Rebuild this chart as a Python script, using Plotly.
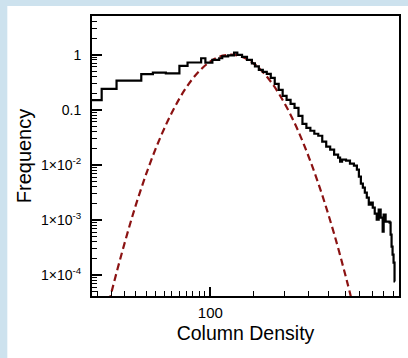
import plotly.graph_objects as go

# Histogram (step) data: left bin edges and frequencies
hist_x = [32, 36.4, 41.8, 52.6, 58.6, 66.1, 75.0, 80.9, 91.8, 95.5, 101.9, 108.6, 111.7, 118, 124.7, 128.5,
          134.3, 140.6, 147.2, 151.4, 157.0, 162.9, 169.0, 175.4, 182.0, 188.8, 195.9, 203.2, 210.9, 218.8,
          227.0, 235.5, 244.3, 253.5, 263.0, 272.9, 283.1, 293.8, 304.8, 316.2, 328.1, 334.2, 340.4, 353.2,
          366.4, 380.2, 390.8, 398.1, 405.5, 413.0, 420.7, 428.5, 436.5, 444.6, 452.9, 461.3, 469.9, 478.6,
          487.5, 496.6, 501.2, 510.5, 520.0, 529.7, 534.6, 539.5, 544.5, 549.5, 554.6, 557.0]
hist_y = [0.149, 0.239, 0.338, 0.441, 0.472, 0.455, 0.624, 0.72, 0.86, 0.716, 0.80, 0.86, 0.93, 0.97, 1.09, 0.99,
          0.909, 0.802, 0.693, 0.611, 0.528, 0.486, 0.447, 0.378, 0.295, 0.230, 0.179, 0.151, 0.128, 0.108,
          0.0775, 0.0555, 0.0470, 0.0415, 0.0366, 0.0337, 0.0263, 0.0213, 0.0188, 0.0153, 0.0135, 0.0114, 0.0124, 0.0119,
          0.0105, 0.00964, 0.00815, 0.00608, 0.00455, 0.00385, 0.00313, 0.00254, 0.00189, 0.00206, 0.00167, 0.00130, 0.00101, 0.00154,
          0.00110, 0.000614, 0.00125, 0.000931, 0.000931, 0.000893, 0.000542, 0.000328, 0.000235, 0.000168, 0.0000762, 0.0000762]

# Log-normal fit curve (dashed)
fit_x = [36.3, 39.8, 44.7, 50.1, 56.2, 63.1, 70.8, 79.4, 89.1, 100, 112.2, 125.9, 141.3, 158.5, 177.8,
         199.5, 223.9, 251.2, 281.8, 316.2, 354.8, 380.2]
fit_y = [8.4e-6, 4.7e-5, 3.35e-4, 1.91e-3, 8.8e-3, 0.033, 0.099, 0.242, 0.474, 0.750, 0.957, 0.986, 0.820,
         0.550, 0.298, 0.130, 0.046, 0.013, 3.0e-3, 5.6e-4, 8.3e-5, 2.4e-5]

# Ticks
x_major = [100]
x_major_text = ["100"]
x_minor = [35, 40, 45, 50, 55, 60, 65, 70, 75, 80, 85, 90, 95, 150, 200, 250, 300, 350, 400, 450, 500, 550]
y_major = [1e-4, 1e-3, 1e-2, 0.1, 1]
y_major_text = ["1×10<sup>-4</sup>", "1×10<sup>-3</sup>", "1×10<sup>-2</sup>", "0.1", "1"]
y_minor = [m * 10 ** e for e in range(-5, 1) for m in range(2, 10)]

W, H = 408, 358
L, R, T, B = 91.5, 6.5, 16, 61.5
pw, ph = W - L - R, H - T - B

fig = go.Figure()
fig.add_trace(go.Scatter(x=fit_x, y=fit_y, mode="lines", line=dict(color="#8b1212", width=2.2, dash="7px,4px", shape="spline"),
                         hoverinfo="skip", showlegend=False))
fig.add_trace(go.Scatter(x=hist_x, y=hist_y, mode="lines", line=dict(color="black", width=2.2, shape="hv"),
                         showlegend=False))

font = "Liberation Sans, Arial, Helvetica, sans-serif"
fig.update_layout(
    width=W, height=H,
    margin=dict(l=L, r=R, t=T, b=B, pad=0),
    paper_bgcolor="#cde2ee",
    plot_bgcolor="white",
    font=dict(family=font, color="black", size=14),
    shapes=[dict(type="rect", xref="paper", yref="paper", layer="below",
                 x0=(6 - L) / pw, x1=(W + 5 - L) / pw, y0=-(B + 5) / ph, y1=(ph + T - 6) / ph,
                 fillcolor="white", line=dict(width=0))],
    xaxis=dict(type="log", range=[1.522, 2.762], showgrid=False, zeroline=False,
               showline=True, linecolor="black", linewidth=2, mirror=True,
               ticks="inside", ticklen=9, tickwidth=1.5, tickcolor="black",
               tickmode="array", tickvals=x_major, ticktext=x_major_text,
               tickfont=dict(size=15), ticklabelstandoff=2,
               minor=dict(tickmode="array", tickvals=x_minor, ticks="inside", ticklen=5, tickwidth=1.2, tickcolor="black", showgrid=False),
               title=dict(text="Column Density", font=dict(size=19.5), standoff=6)),
    yaxis=dict(type="log", range=[-4.381, 0.701], showgrid=False, zeroline=False,
               showline=True, linecolor="black", linewidth=2, mirror=True,
               ticks="inside", ticklen=10, tickwidth=1.5, tickcolor="black",
               tickmode="array", tickvals=y_major, ticktext=y_major_text,
               tickfont=dict(size=14), ticklabelstandoff=6,
               minor=dict(tickmode="array", tickvals=y_minor, ticks="inside", ticklen=5, tickwidth=1.2, tickcolor="black", showgrid=False),
               title=dict(text="Frequency", font=dict(size=20), standoff=4)),
)

fig.write_html("out.html")
